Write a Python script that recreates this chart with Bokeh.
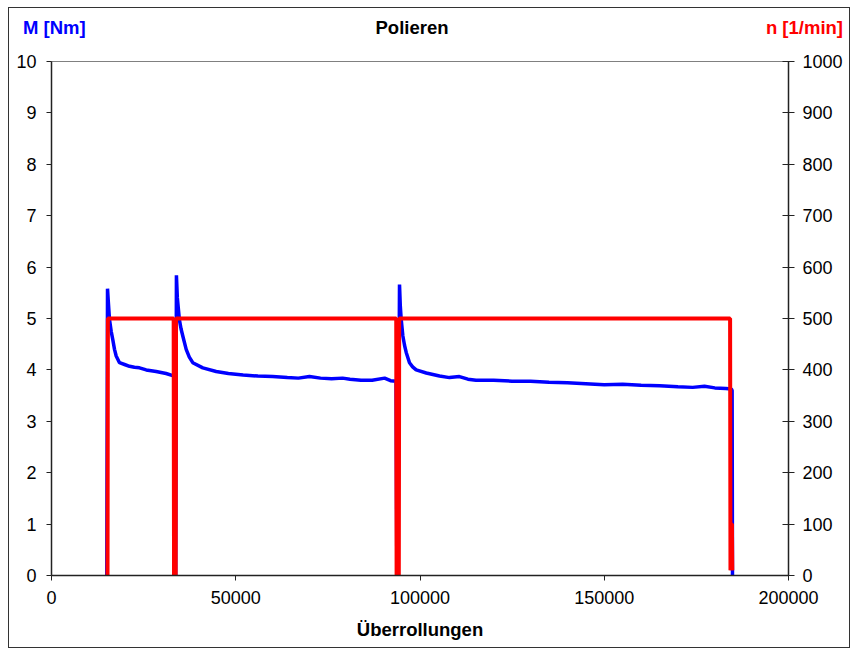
from bokeh.plotting import figure
from bokeh.models import Range1d, LinearAxis, FixedTicker, NumeralTickFormatter, Div
from bokeh.layouts import column
from bokeh.embed import file_html
from bokeh.resources import INLINE

# Torque M [Nm] vs. Überrollungen
M_X = [15000, 15200, 15400, 15740, 16200, 16630, 17100, 17550, 18450, 20000, 21170,
       22500, 23880, 25700, 28400, 31100, 32900, 33300, 33450, 33700, 33900,
       34150, 34700, 35150, 35630, 36550, 37400, 38340, 41060, 44690, 48000, 52000, 56000,
       60000, 64000, 67000, 70000, 73000, 76000, 79000, 81000, 84000, 87000,
       90400, 92000, 93500, 93700, 94000, 94440, 94650, 94900, 95350, 95800, 96260, 97150,
       98000, 98960, 101700, 105300, 108000, 110700, 113000, 115200, 120000, 125000, 130000,
       135000, 140000, 145000, 150000, 155000, 160000, 165000, 170000, 174000, 177200,
       180000, 183000, 184500, 184700, 184800]
M_Y = [0.0, 5.58, 5.35, 4.98, 4.75, 4.59, 4.40, 4.27, 4.14, 4.10, 4.07,
       4.05, 4.04, 4.00, 3.97, 3.93, 3.89, 3.88, 0.35, 0.0, 5.84,
       5.40, 4.98, 4.80, 4.66, 4.40, 4.25, 4.14, 4.04, 3.97, 3.93, 3.90, 3.88,
       3.87, 3.85, 3.84, 3.87, 3.84, 3.83, 3.84, 3.82, 3.80, 3.80,
       3.84, 3.79, 3.78, 0.30, 0.0, 5.66, 5.25, 4.98, 4.66, 4.48, 4.34, 4.14,
       4.06, 4.00, 3.94, 3.88, 3.85, 3.87, 3.82, 3.80, 3.80, 3.78, 3.78,
       3.76, 3.75, 3.73, 3.71, 3.72, 3.70, 3.69, 3.67, 3.66, 3.68,
       3.65, 3.64, 3.63, 3.60, 0.0]

# Speed n [1/min]
N_X = [15200, 15300, 33150, 33250, 33700, 33800, 93550, 93650, 94250, 94350,
       184150, 184250, 184350, 184650, 184750]
N_Y = [0, 500, 500, 0, 0, 500, 500, 0, 0, 500,
       500, 10, 100, 100, 10]

X_TICKS = [0, 50000, 100000, 150000, 200000]
M_TICKS = list(range(0, 11))
N_TICKS = list(range(0, 1001, 100))

TITLE = "Polieren"
LEFT_LABEL = "M [Nm]"
RIGHT_LABEL = "n [1/min]"
X_LABEL = "Überrollungen"

FONT = "Liberation Sans"
FS = "18px"
FSB = "18.5px"

span_css = ("position:absolute;top:11px;line-height:18.5px;white-space:nowrap;"
            "font-family:'Liberation Sans',Arial,sans-serif;font-weight:bold;font-size:18.5px;")
header_html = (
    '<div style="position:relative;width:840px;height:38px;">'
    f'<span style="{span_css}left:14px;color:#0000FF;">{LEFT_LABEL}</span>'
    f'<span style="{span_css}left:403px;transform:translateX(-50%);color:#000000;">{TITLE}</span>'
    f'<span style="{span_css}right:6px;color:#FF0000;">{RIGHT_LABEL}</span>'
    '</div>'
)
header = Div(text=header_html, width=840, height=38, margin=0)

p = figure(width=840, height=601, output_backend="svg", toolbar_location=None,
           x_range=Range1d(0, 200000), y_range=Range1d(0, 10),
           min_border_left=42, min_border_right=61, min_border_top=15, min_border_bottom=72,
           margin=0)
p.extra_y_ranges = {"n": Range1d(0, 1000)}

p.xgrid.visible = False
p.ygrid.visible = False
p.outline_line_color = "#808080"
p.outline_line_width = 1

p.line(M_X, M_Y, line_color="#0000FF", line_width=3.5)
p.line(N_X, N_Y, line_color="#FF0000", line_width=4, y_range_name="n")

def style_axis(ax, ticks, tin, tout):
    ax.ticker = FixedTicker(ticks=ticks)
    ax.formatter = NumeralTickFormatter(format="0")
    ax.minor_tick_line_color = None
    ax.major_tick_in = tin
    ax.major_tick_out = tout
    ax.axis_line_color = "#222222"
    ax.axis_line_width = 1.5
    ax.major_tick_line_color = "#222222"
    ax.major_label_text_font = FONT
    ax.major_label_text_font_size = FS
    ax.major_label_text_color = "black"

xa = p.xaxis[0]
style_axis(xa, X_TICKS, 0, 5)
xa.major_label_standoff = 10
xa.axis_label = X_LABEL
xa.axis_label_text_font = FONT
xa.axis_label_text_font_size = FSB
xa.axis_label_text_font_style = "bold"
xa.axis_label_text_color = "black"
xa.axis_label_standoff = 12

ya = p.yaxis[0]
style_axis(ya, M_TICKS, 0, 5)
ya.major_label_standoff = 10

ra = LinearAxis(y_range_name="n")
style_axis(ra, N_TICKS, 6, 6)
ra.major_label_standoff = 8
p.add_layout(ra, "right")

layout = column(header, p, spacing=0,
                styles={"border": "1px solid #333333", "margin-left": "8px", "margin-top": "7px"})

open("out.html", "w").write(file_html(layout, INLINE))
